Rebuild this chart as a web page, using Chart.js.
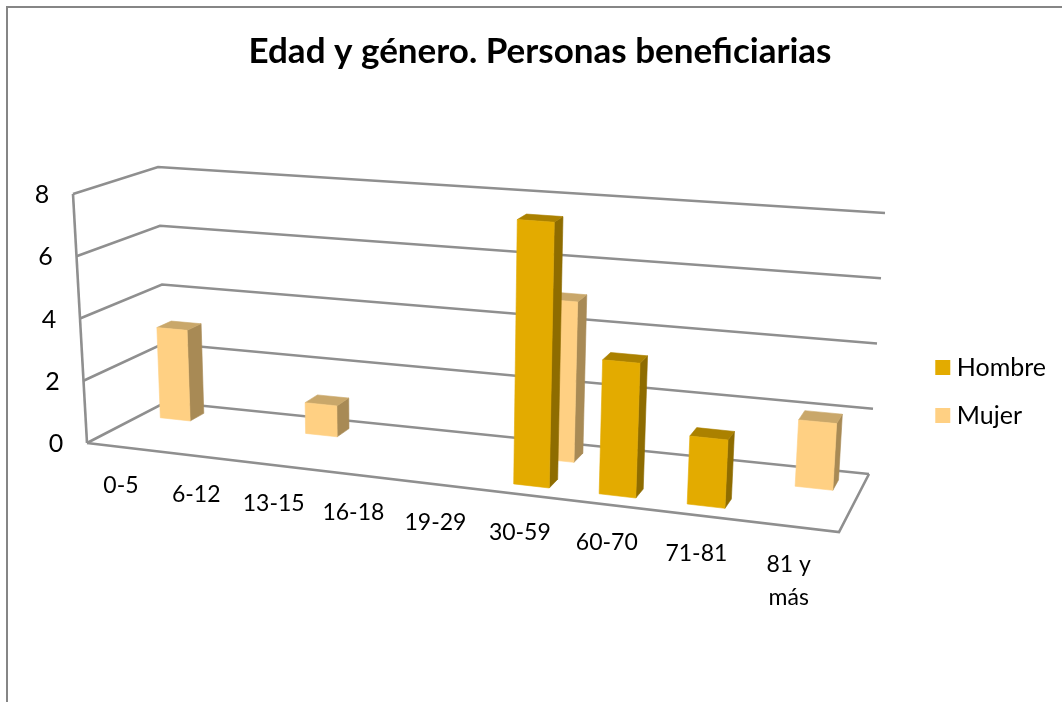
<!DOCTYPE html>
<html><head><meta charset="utf-8">
<script src="https://cdn.jsdelivr.net/npm/chart.js@4/dist/chart.umd.min.js"></script>
<style>html,body{margin:0;padding:0;background:#fff}canvas{display:block}</style>
</head><body><canvas id="c" width="1062" height="702"></canvas>
<script>
const categories = ['0-5','6-12','13-15','16-18','19-29','30-59','60-70','71-81',['81 y','más']];
const hombre = [0,0,0,0,0,8,4,2,0];
const mujer  = [3,0,1,0,0,5,0,0,2];
const yMax = 8, yStep = 2;

// 3D box corners on screen
const box = {
  fb:[87,443], ft:[73,194], bb:[166,402], bt:[158,167],
  Fb:[839,532], Ft:[856,250], Bb:[869,474], Bt:[885,213]
};
const K = 1.14;
const warp = u => u/(K-(K-1)*u);
const lerp = (a,b,t)=>[a[0]+(b[0]-a[0])*t,a[1]+(b[1]-a[1])*t];
function project(u,v,w){
  const U = warp(u);
  const l = lerp(lerp(box.fb,box.ft,v),lerp(box.bb,box.bt,v),w);
  const r = lerp(lerp(box.Fb,box.Ft,v),lerp(box.Bb,box.Bt,v),w);
  return lerp(l,r,U);
}
const GRID = '#8f8f8f';
const FACES = {
  hombre:{front:'#E3AB00',side:'#8E6C00',top:'#AB8100'},
  mujer:{front:'#FFD083',side:'#A88A55',top:'#C9A76A'}
};
function poly(ctx,pts,fill){
  ctx.beginPath();pts.forEach((p,i)=>i?ctx.lineTo(p[0],p[1]):ctx.moveTo(p[0],p[1]));ctx.closePath();
  ctx.fillStyle=fill;ctx.fill();ctx.strokeStyle=fill;ctx.lineWidth=0.6;ctx.stroke();
}
let current=null, theChart=null;
Chart.BarElement.prototype.draw=function(ctx){
  if(!current||!theChart) return;
  const a=theChart.chartArea;
  if(Math.abs(this.base-this.y)<0.5) return;
  const u0=(this.x-this.width/2-a.left)/a.width, u1=(this.x+this.width/2-a.left)/a.width;
  const v0=(a.bottom-this.base)/a.height, v1=(a.bottom-this.y)/a.height;
  const [w0,w1]=current.depth, c=current.faces;
  poly(ctx,[project(u1,v0,w0),project(u1,v0,w1),project(u1,v1,w1),project(u1,v1,w0)],c.side);
  poly(ctx,[project(u0,v1,w0),project(u1,v1,w0),project(u1,v1,w1),project(u0,v1,w1)],c.top);
  poly(ctx,[project(u0,v0,w0),project(u1,v0,w0),project(u1,v1,w0),project(u0,v1,w0)],c.front);
};
function line(ctx,a,b){ctx.beginPath();ctx.moveTo(a[0],a[1]);ctx.lineTo(b[0],b[1]);ctx.stroke();}
const walls={
  id:'walls',
  beforeInit(chart){theChart=chart;},
  afterLayout(chart){chart.legend.top+=25;chart.legend.bottom+=25;},
  beforeDatasetDraw(chart,args){
    const d=chart.data.datasets[args.index];current={depth:d.depth,faces:d.faces};
  },
  beforeDatasetsDraw(chart){
    const ctx=chart.ctx,ys=chart.scales.y,xs=chart.scales.x,a=chart.chartArea;
    ctx.save();
    ctx.strokeStyle='#868686';ctx.lineWidth=2;
    ctx.beginPath();ctx.moveTo(7,702);ctx.lineTo(7,7);ctx.lineTo(1062,7);ctx.stroke();
    ctx.strokeStyle=GRID;ctx.lineWidth=2.6;ctx.lineJoin='miter';
    ys.ticks.forEach(t=>{
      const v=(a.bottom-ys.getPixelForValue(t.value))/a.height;
      ctx.beginPath();
      const p0=project(0,v,0),p1=project(0,v,1),p2=project(1,v,1);
      ctx.moveTo(p0[0],p0[1]);ctx.lineTo(p1[0],p1[1]);ctx.lineTo(p2[0],p2[1]);ctx.stroke();
      ctx.fillStyle='#000';ctx.font='25px Lato';ctx.textAlign='center';ctx.textBaseline='middle';
      ctx.fillText(String(t.value),p0[0]-31,p0[1]+1);
    });
    line(ctx,project(0,0,0),project(0,1,0));
    ctx.beginPath();
    const q0=project(0,0,0),q1=project(1,0,0),q2=project(1,0,1);
    ctx.moveTo(q0[0],q0[1]);ctx.lineTo(q1[0],q1[1]);ctx.lineTo(q2[0],q2[1]);ctx.stroke();
    ctx.fillStyle='#000';ctx.font='23px Lato';ctx.textAlign='center';ctx.textBaseline='middle';
    xs.getLabels().forEach((lab,i)=>{
      const u=(xs.getPixelForValue(i)-a.left)/a.width;
      const p=project(u,0,0);
      const lines=Array.isArray(lab)?lab:[lab];
      lines.forEach((s,k)=>ctx.fillText(s,p[0]-3,p[1]+38+k*33));
    });
    ctx.restore();
  }
};
new Chart(document.getElementById('c'),{
  type:'bar',
  data:{labels:categories,datasets:[
    {label:'Hombre',data:hombre,backgroundColor:FACES.hombre.front,depth:[0.17,0.34],faces:FACES.hombre},
    {label:'Mujer',data:mujer,backgroundColor:FACES.mujer.front,depth:[0.67,0.85],faces:FACES.mujer}
  ]},
  options:{
    responsive:false,animation:false,
    layout:{padding:{left:24,right:6,bottom:0,top:31}},
    datasets:{bar:{grouped:false,categoryPercentage:1,barPercentage:0.42}},
    scales:{
      x:{display:false,type:'category'},
      y:{display:false,min:0,max:yMax,ticks:{stepSize:yStep}}
    },
    plugins:{
      title:{display:true,text:'Edad y género. Personas beneficiarias',color:'#000',
        font:{family:'Lato',size:35,weight:'bold'},padding:{top:0,bottom:140}},
      legend:{position:'right',labels:{boxWidth:3,boxHeight:3,padding:23,color:'#000',font:{family:'Lato',size:25},
        generateLabels(chart){
          return chart.data.datasets.map((d,i)=>({text:d.label,fillStyle:d.backgroundColor,strokeStyle:d.backgroundColor,
            lineWidth:12,lineJoin:'miter',datasetIndex:i,fontColor:'#000',hidden:false}));
        }}},
      tooltip:{enabled:false}
    }
  },
  plugins:[walls]
});
</script></body></html>
